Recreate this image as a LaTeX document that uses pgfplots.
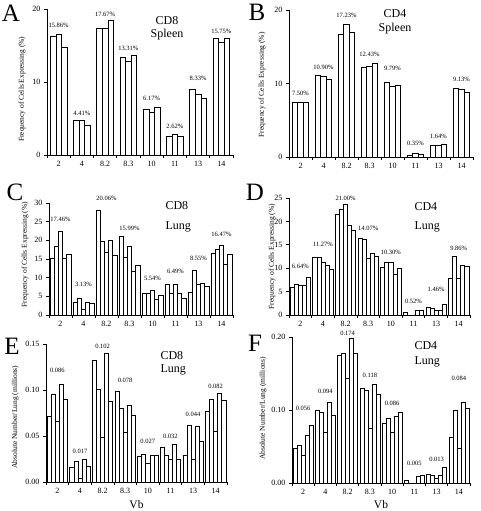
\documentclass[border=0pt]{standalone}
\usepackage{pgfplots}
\pgfplotsset{compat=1.18}
\usepackage{pgfplotstable}
\usepackage{fontspec}
\setmainfont{Liberation Serif}

\pgfplotstableread{
g v1 v2 v3
0 16.3 16.6 14.8
1 4.7 4.7 4.0
2 17.4 17.3 18.4
3 13.4 12.9 13.6
4 6.2 5.8 6.6
5 2.5 2.8 2.6
6 9.0 8.3 7.8
7 16.0 15.4 16.0
}\tabA
\pgfplotstableread{
g v1 v2 v3
0 7.5 7.5 7.5
1 11.1 11.0 10.6
2 16.7 18.0 17.0
3 12.2 12.3 12.8
4 10.1 9.6 9.8
5 0.25 0.45 0.35
6 1.6 1.65 1.67
7 9.4 9.2 8.8
}\tabB
\pgfplotstableread{
g v1 v2 v3 v4 v5
0 15.1 18.4 22.4 15.2 16.2
1 3.3 4.4 1.5 3.5 3.0
2 28.0 19.7 16.7 19.9 16.0
3 21.1 15.5 18.4 11.8 13.2
4 5.8 5.9 6.6 4.2 5.2
5 8.1 5.7 8.3 5.8 4.5
6 6.2 12.0 8.1 8.5 7.8
7 16.5 17.5 18.7 13.6 16.3
}\tabC
\pgfplotstableread{
g v1 v2 v3 v4 v5
0 5.9 6.6 6.4 6.4 8.0
1 12.3 12.3 11.3 10.7 9.7
2 21.6 22.6 23.6 19.1 18.1
3 16.3 16.2 12.2 13.1 12.5
4 10.2 11.3 11.3 8.8 9.9
5 0.5 0 0 0.9 1.1
6 1.6 1.4 1.1 1.0 2.3
7 7.9 12.6 7.8 10.7 10.5
}\tabD
\pgfplotstableread{
g v1 v2 v3 v4 v5
0 0.071 0.095 0.066 0.106 0.090
1 0.016 0.022 0.004 0.025 0.017
2 0.132 0.101 0.049 0.140 0.088
3 0.099 0.080 0.054 0.083 0.073
4 0.028 0.030 0.020 0.029 0.029
5 0.038 0.029 0.025 0.041 0.025
6 0.029 0.062 0.025 0.060 0.044
7 0.077 0.090 0.055 0.096 0.089
}\tabE
\pgfplotstableread{
g v1 v2 v3 v4 v5
0 0.047 0.051 0.038 0.066 0.079
1 0.099 0.097 0.070 0.111 0.093
2 0.175 0.178 0.144 0.198 0.177
3 0.130 0.127 0.075 0.135 0.121
4 0.082 0.088 0.069 0.091 0.097
5 0.004 0 0 0.009 0.010
6 0.012 0.011 0.006 0.010 0.022
7 0.063 0.099 0.047 0.110 0.102
}\tabF

\tikzset{pct/.style={font=\fontsize{6.5}{8}\selectfont}}
\pgfplotsset{
  panel/.style={
    scale only axis, anchor=south west,
    axis lines=left, axis line style={-, line width=0.8pt},
    xmin=-0.5, xmax=7.5, ymin=0,
    xtick={0,...,7}, xticklabels={2,4,8.2,8.3,10,11,13,14},
    minor xtick={-0.5,0.5,...,7.5},
    tick align=outside,
    tick style={black, line width=0.6pt},
    major tick length=3pt, minor tick length=3pt,
    major x tick style={draw=none},
    minor x tick style={black, line width=0.6pt},
    ticklabel style={font=\fontsize{8}{9}\selectfont},
    /pgf/number format/assume math mode=true,
    ylabel style={font=\fontsize{7.5}{9}\selectfont},
    scaled y ticks=false, clip=false,
  },
  b3/.style={ybar, bar width=0.24, bar shift=0pt, fill=white, draw=black, line width=0.6pt},
  b5/.style={ybar, bar width=0.18, bar shift=0pt, fill=white, draw=black, line width=0.6pt},
}

\begin{document}
\begin{tikzpicture}
\useasboundingbox (0,0) rectangle (480pt,511pt);

% ---- A ----
\begin{axis}[panel, at={(47pt,356pt)}, width=186pt, height=146pt,
  ymax=20, ytick={0,10,20},
  ylabel={Frequency of Cells Expressing (\%)},
  ylabel style={at={(axis description cs:-0.134,0.45)}, anchor=center}]
\addplot[b3] table[x expr=\thisrow{g}-0.24, y=v1] {\tabA};
\addplot[b3] table[x expr=\thisrow{g}, y=v2] {\tabA};
\addplot[b3] table[x expr=\thisrow{g}+0.24, y=v3] {\tabA};
\node[pct] at (axis cs:0,17.8) {15.86\%};
\node[pct] at (axis cs:1,5.7) {4.41\%};
\node[pct] at (axis cs:2,19.3) {17.67\%};
\node[pct] at (axis cs:3,14.6) {13.31\%};
\node[pct] at (axis cs:4,7.8) {6.17\%};
\node[pct] at (axis cs:5,3.9) {2.62\%};
\node[pct] at (axis cs:6,10.5) {8.33\%};
\node[pct] at (axis cs:7,16.9) {15.75\%};
\end{axis}

% ---- B ----
\begin{axis}[panel, at={(289pt,354pt)}, width=184pt, height=147pt,
  ymax=20, ytick={0,10,20},
  ylabel={Frequency of Cells Expressing (\%)},
  ylabel style={at={(axis description cs:-0.147,0.49)}, anchor=center}]
\addplot[b3] table[x expr=\thisrow{g}-0.24, y=v1] {\tabB};
\addplot[b3] table[x expr=\thisrow{g}, y=v2] {\tabB};
\addplot[b3] table[x expr=\thisrow{g}+0.24, y=v3] {\tabB};
\node[pct] at (axis cs:0,8.7) {7.50\%};
\node[pct] at (axis cs:1,12.2) {10.90\%};
\node[pct] at (axis cs:2,19.2) {17.23\%};
\node[pct] at (axis cs:3,13.9) {12.43\%};
\node[pct] at (axis cs:4,12.0) {9.79\%};
\node[pct] at (axis cs:5,1.8) {0.35\%};
\node[pct] at (axis cs:6,2.8) {1.64\%};
\node[pct] at (axis cs:7,10.5) {9.13\%};
\end{axis}

% ---- C ----
\begin{axis}[panel, at={(49pt,196pt)}, width=184pt, height=112pt,
  ymax=30, ytick={0,5,...,30},
  ylabel={Frequency of Cells Expressing (\%)},
  ylabel style={at={(axis description cs:-0.13,0.54)}, anchor=center}]
\addplot[b5] table[x expr=\thisrow{g}-0.36, y=v1] {\tabC};
\addplot[b5] table[x expr=\thisrow{g}-0.18, y=v2] {\tabC};
\addplot[b5] table[x expr=\thisrow{g}, y=v3] {\tabC};
\addplot[b5] table[x expr=\thisrow{g}+0.18, y=v4] {\tabC};
\addplot[b5] table[x expr=\thisrow{g}+0.36, y=v5] {\tabC};
\node[pct] at (axis cs:0,25.5) {17.46\%};
\node[pct] at (axis cs:1,8.1) {3.13\%};
\node[pct] at (axis cs:2,31.3) {20.06\%};
\node[pct] at (axis cs:3,23.3) {15.99\%};
\node[pct] at (axis cs:4,9.8) {5.54\%};
\node[pct] at (axis cs:5,11.6) {6.49\%};
\node[pct] at (axis cs:6,15.2) {8.55\%};
\node[pct] at (axis cs:7,21.5) {16.47\%};
\end{axis}

% ---- D ----
\begin{axis}[panel, at={(289pt,196pt)}, width=181pt, height=117pt,
  ymax=25, ytick={0,5,...,25},
  ylabel={Frequency of Cells Expressing (\%)},
  ylabel style={at={(axis description cs:-0.094,0.5)}, anchor=center}]
\addplot[b5] table[x expr=\thisrow{g}-0.36, y=v1] {\tabD};
\addplot[b5] table[x expr=\thisrow{g}-0.18, y=v2] {\tabD};
\addplot[b5] table[x expr=\thisrow{g}, y=v3] {\tabD};
\addplot[b5] table[x expr=\thisrow{g}+0.18, y=v4] {\tabD};
\addplot[b5] table[x expr=\thisrow{g}+0.36, y=v5] {\tabD};
\node[pct] at (axis cs:0,10.4) {6.64\%};
\node[pct] at (axis cs:1,15.0) {11.27\%};
\node[pct] at (axis cs:2,25.0) {21.00\%};
\node[pct] at (axis cs:3,18.6) {14.07\%};
\node[pct] at (axis cs:4,13.4) {10.30\%};
\node[pct] at (axis cs:5,2.9) {0.52\%};
\node[pct] at (axis cs:6,5.4) {1.46\%};
\node[pct] at (axis cs:7,14.3) {9.86\%};
\end{axis}

% ---- E ----
\begin{axis}[panel, at={(46pt,29pt)}, width=181pt, height=138pt,
  ymax=0.15, ytick={0,0.05,0.10,0.15},
  yticklabel style={/pgf/number format/.cd, fixed, fixed zerofill, precision=2},
  ylabel={Absolute Number/Lung (millions)},
  ylabel style={at={(axis description cs:-0.17,0.47)}, anchor=center},
  xlabel={Vb},
  xlabel style={font=\fontsize{11.5}{12}\selectfont, at={(axis description cs:0.5,0)}, anchor=center, yshift=-23pt}]
\addplot[b5] table[x expr=\thisrow{g}-0.36, y=v1] {\tabE};
\addplot[b5] table[x expr=\thisrow{g}-0.18, y=v2] {\tabE};
\addplot[b5] table[x expr=\thisrow{g}, y=v3] {\tabE};
\addplot[b5] table[x expr=\thisrow{g}+0.18, y=v4] {\tabE};
\addplot[b5] table[x expr=\thisrow{g}+0.36, y=v5] {\tabE};
\node[pct] at (axis cs:0,0.121) {0.086};
\node[pct] at (axis cs:1,0.033) {0.017};
\node[pct] at (axis cs:2,0.147) {0.102};
\node[pct] at (axis cs:3,0.110) {0.078};
\node[pct] at (axis cs:4,0.044) {0.027};
\node[pct] at (axis cs:5,0.050) {0.032};
\node[pct] at (axis cs:6,0.073) {0.044};
\node[pct] at (axis cs:7,0.104) {0.082};
\end{axis}

% ---- F ----
\begin{axis}[panel, at={(292pt,28pt)}, width=178pt, height=146pt,
  ymax=0.20, ytick={0,0.10,0.20},
  yticklabel style={/pgf/number format/.cd, fixed, fixed zerofill, precision=2},
  ylabel={Absolute Number/Lung (millions)},
  ylabel style={at={(axis description cs:-0.163,0.51)}, anchor=center},
  xlabel={Vb},
  xlabel style={font=\fontsize{11.5}{12}\selectfont, at={(axis description cs:0.5,0)}, anchor=center, yshift=-22pt}]
\addplot[b5] table[x expr=\thisrow{g}-0.36, y=v1] {\tabF};
\addplot[b5] table[x expr=\thisrow{g}-0.18, y=v2] {\tabF};
\addplot[b5] table[x expr=\thisrow{g}, y=v3] {\tabF};
\addplot[b5] table[x expr=\thisrow{g}+0.18, y=v4] {\tabF};
\addplot[b5] table[x expr=\thisrow{g}+0.36, y=v5] {\tabF};
\node[pct] at (axis cs:0,0.102) {0.056};
\node[pct] at (axis cs:1,0.126) {0.094};
\node[pct] at (axis cs:2,0.205) {0.174};
\node[pct] at (axis cs:3,0.147) {0.118};
\node[pct] at (axis cs:4,0.109) {0.086};
\node[pct] at (axis cs:5,0.027) {0.005};
\node[pct] at (axis cs:6,0.033) {0.013};
\node[pct] at (axis cs:7,0.143) {0.084};
\end{axis}

% panel letters and titles
\node[font=\fontsize{25}{25}\selectfont] at (11pt,498pt) {A};
\node[font=\fontsize{25}{25}\selectfont] at (257pt,499pt) {B};
\node[font=\fontsize{25}{25}\selectfont] at (15pt,319pt) {C};
\node[font=\fontsize{25}{25}\selectfont] at (255pt,319pt) {D};
\node[font=\fontsize{25}{25}\selectfont] at (12pt,165pt) {E};
\node[font=\fontsize{25}{25}\selectfont] at (255pt,168pt) {F};

\node[font=\fontsize{12}{13.5}\selectfont, align=center] at (167pt,482.5pt) {CD8\\Spleen};
\node[font=\fontsize{12}{14}\selectfont, align=center] at (395pt,489pt) {CD4\\Spleen};
\node[font=\fontsize{12}{20}\selectfont, align=left, anchor=west] at (162pt,294pt) {CD8\\Lung};
\node[font=\fontsize{12}{19}\selectfont, align=left, anchor=west] at (411pt,293.5pt) {CD4\\Lung};
\node[font=\fontsize{12}{13.5}\selectfont, align=left, anchor=west] at (157pt,147.5pt) {CD8\\Lung};
\node[font=\fontsize{12}{15}\selectfont, align=left, anchor=west] at (411pt,156.5pt) {CD4\\Lung};
\end{tikzpicture}
\end{document}
